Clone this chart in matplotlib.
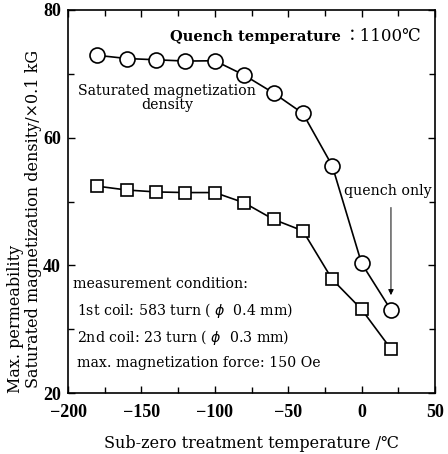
import matplotlib
matplotlib.use("Agg")
import matplotlib.pyplot as plt
from matplotlib.ticker import MultipleLocator

plt.rcParams['font.family'] = ['DejaVu Serif', 'Noto Sans CJK JP', 'DejaVu Sans']

temps = [-180, -160, -140, -120, -100, -80, -60, -40, -20, 0, 20]
sat_density = [72.9, 72.4, 72.2, 72.0, 72.05, 69.8, 67.0, 63.8, 55.6, 40.3, 33.0]
max_perm = [52.4, 51.8, 51.5, 51.4, 51.4, 49.8, 47.2, 45.4, 37.8, 33.1, 26.9]
x_ticks = [-200, -150, -100, -50, 0, 50]
x_labels = ['\u2212200', '\u2212150', '\u2212100', '\u221250', '0', '50']
y_ticks = [20, 40, 60, 80]

W, H = 448, 454
fig = plt.figure(figsize=(W/100, H/100), dpi=100)
ax = fig.add_axes([68/W, 1 - 393/H, (435-68)/W, (393-10)/H])

ax.plot(temps, sat_density, '-', color='black', lw=1.2, marker='o', ms=10.8,
        mfc='white', mec='black', mew=1.2)
ax.plot(temps, max_perm, '-', color='black', lw=1.2, marker='s', ms=9,
        mfc='white', mec='black', mew=1.2)

ax.set_xlim(-200, 50)
ax.set_ylim(20, 80)
ax.xaxis.set_minor_locator(MultipleLocator(25))
ax.yaxis.set_minor_locator(MultipleLocator(10))
ax.set_xticks(x_ticks)
ax.set_xticklabels(x_labels)
ax.set_yticks(y_ticks)
ax.tick_params(which='both', direction='in', top=True, right=True, width=1)
ax.tick_params(which='major', length=5, labelsize=13, pad=5)
ax.tick_params(axis='x', which='major', pad=8)
ax.tick_params(which='minor', length=4)
for lab in ax.get_xticklabels() + ax.get_yticklabels():
    lab.set_fontfamily(['Liberation Serif', 'DejaVu Serif'])
    lab.set_fontweight('bold')
for s in ax.spines.values():
    s.set_linewidth(1.2)

# axis titles
fig.text(251/W, 1 - 443/H, 'Sub-zero treatment temperature /\u2103', fontsize=11.5,
         ha='center', va='center')
fig.text(16/W, 1 - 393/H, 'Max. permeability', fontsize=11.5, rotation=90,
         ha='center', va='bottom')
fig.text(33/W, 1 - 388/H, 'Saturated magnetization density/\u00d70.1 kG',
         fontsize=11.5, rotation=90, ha='center', va='bottom')

ax.text(-130.5, 75.8, 'Quench temperature', fontsize=10.5,
        fontweight='bold', va='center', ha='left')
ax.text(41, 75.8, '\uff1a1100\u2103', fontsize=12, va='center', ha='right')
ax.text(-132.5, 66.2, 'Saturated magnetization\ndensity', fontsize=10.2,
        ha='center', va='center', linespacing=0.95)

ax.text(-196.5, 37.0, 'measurement condition:', fontsize=10.2, va='center')
ax.text(-194, 33.0, '1st coil: 583 turn ( $\\phi$  0.4 mm)', fontsize=10.2, va='center')
ax.text(-194, 28.7, '2nd coil: 23 turn ( $\\phi$  0.3 mm)', fontsize=10.2, va='center')
ax.text(-194, 24.7, 'max. magnetization force: 150 Oe', fontsize=10.2, va='center')

ax.text(-12, 51.6, 'quench only', fontsize=10.2, va='center', ha='left')
ax.annotate('', xy=(20, 34.9), xytext=(20, 49.5),
            arrowprops=dict(arrowstyle='-|>', color='black', lw=0.7,
                            mutation_scale=8))

fig.savefig('out.png', dpi=100)
